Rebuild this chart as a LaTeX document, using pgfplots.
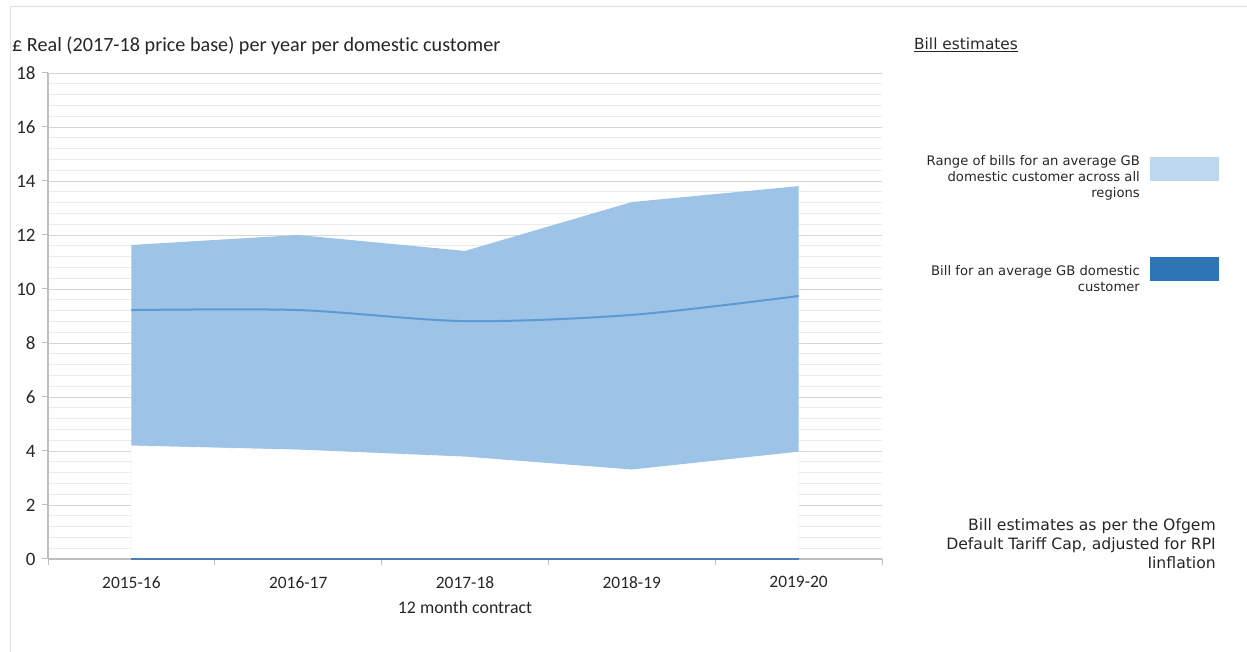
\documentclass[border=0pt]{standalone}
\usepackage{pgfplots}
\pgfplotsset{compat=1.18}
\usepackage{fontspec}
\setmainfont{Carlito}[Ligatures=NoCommon]
\newfontfamily\verd{DejaVu Sans}
\definecolor{areablue}{HTML}{9DC3E6}
\definecolor{lineblue}{HTML}{5B9BD5}
\definecolor{zeroblue}{HTML}{4A7EBB}
\definecolor{legl}{HTML}{BDD7EE}
\definecolor{legd}{HTML}{2E75B6}
\definecolor{axgray}{HTML}{BFBFBF}
\definecolor{txt}{HTML}{262626}
\begin{document}
\begin{tikzpicture}[x=1bp,y=1bp]
\path[use as bounding box] (0,0) rectangle (1247,652);
\draw[black!12, line width=1bp] (10,0) -- (10,645) -- (1247,645);
\begin{axis}[
  at={(48bp,93bp)}, anchor=south west, scale only axis,
  width=834bp, height=486bp,
  xmin=-0.5, xmax=4.5, ymin=0, ymax=18,
  ytick={0,2,...,18}, minor y tick num=4,
  xtick={-0.5,0.5,1.5,2.5,3.5,4.5},
  xticklabels={2015-16,2016-17,2017-18,2018-19,2019-20,{}},
  x tick label style={xshift=83.4bp, yshift=-8bp, font=\fontsize{17.5}{20}\selectfont, text=txt},
  y tick label style={xshift=-3bp, font=\fontsize{19}{22}\selectfont, text=txt},
  /pgf/number format/assume math mode=true,
  axis x line*=bottom, axis y line*=left,
  axis line style={axgray, line width=1.2bp},
  tick style={axgray, line width=1bp},
  tick align=outside, major tick length=6bp, minor tick length=0bp,
  ymajorgrids, yminorgrids,
  major grid style={black!16, line width=0.8bp},
  minor grid style={black!8, line width=0.8bp},
  clip=false,
]
\addplot[fill=areablue, draw=none] coordinates {(0,11.63) (1,12.0) (2,11.41) (3,13.22) (4,13.81)} \closedcycle;
\addplot[fill=white, draw=white, line width=0.6bp] coordinates {(0,4.19) (1,4.04) (2,3.78) (3,3.30) (4,3.96)} \closedcycle;
\addplot[lineblue, line width=2bp, smooth, tension=0.5] coordinates {(0,9.22) (1,9.22) (2,8.81) (3,9.04) (4,9.74)};
\addplot[zeroblue, line width=1.2bp] coordinates {(0,0) (4,0)};
\end{axis}
\node[anchor=base west, font=\fontsize{20.25}{24}\selectfont, text=txt, inner sep=0] at (12,600) {£ Real (2017-18 price base) per year per domestic customer};
\node[anchor=center, font=\fontsize{17.9}{21}\selectfont, text=txt] at (465,45) {12 month contract};
\node[anchor=west, font=\verd\fontsize{15.4}{18}\selectfont, text=txt, inner sep=0] at (914,607) {\underline{Bill estimates}};
\node[anchor=east, align=right, font=\verd\fontsize{13.2}{16}\selectfont, text=txt, inner sep=0] at (1140,474) {Range of bills for an average GB\\domestic customer across all\\regions};
\fill[legl] (1150,471) rectangle (1219,495);
\node[anchor=east, align=right, font=\verd\fontsize{13.2}{16}\selectfont, text=txt, inner sep=0] at (1140,373) {Bill for an average GB domestic\\customer};
\fill[legd] (1150,371) rectangle (1219,395);
\node[anchor=east, align=right, font=\verd\fontsize{15.7}{19}\selectfont, text=txt, inner sep=0] at (1216,108) {Bill estimates as per the Ofgem\\Default Tariff Cap, adjusted for RPI\\Iinflation};
\end{tikzpicture}
\end{document}
